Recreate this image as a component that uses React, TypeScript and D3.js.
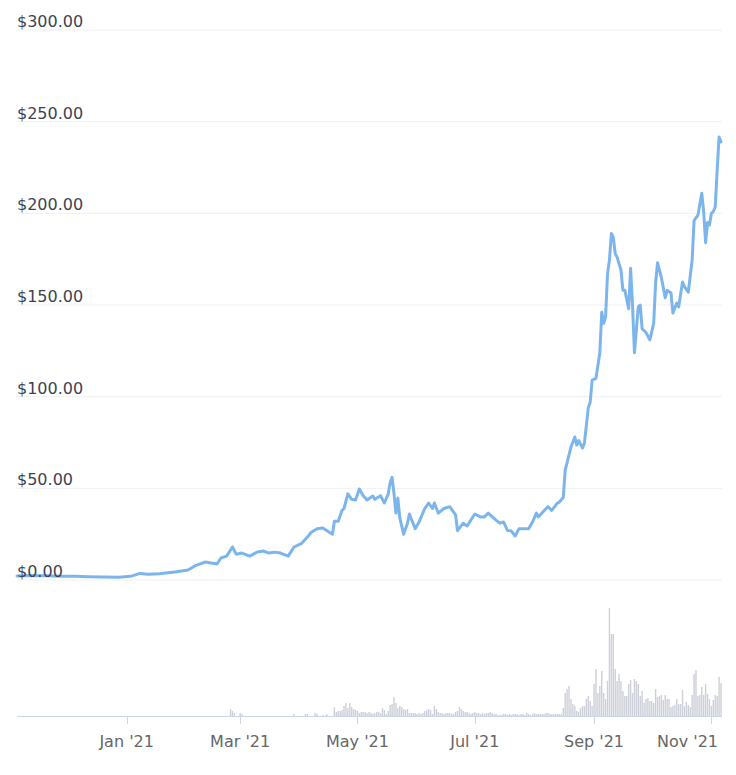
import React from "react";
import * as d3 from "d3";

// ---------- data ----------
const priceDates: string[] = [
  "2020-11-05","2020-11-12","2020-11-20","2020-11-28","2020-12-05","2020-12-12","2020-12-20","2020-12-28",
  "2021-01-03","2021-01-08","2021-01-12","2021-01-18","2021-01-26","2021-02-02","2021-02-06","2021-02-11",
  "2021-02-17","2021-02-19","2021-02-22","2021-02-25","2021-02-27","2021-03-02","2021-03-06","2021-03-10",
  "2021-03-13","2021-03-16","2021-03-19","2021-03-22","2021-03-26","2021-03-29","2021-04-02","2021-04-05",
  "2021-04-07","2021-04-10","2021-04-13","2021-04-15","2021-04-18","2021-04-19","2021-04-21","2021-04-23",
  "2021-04-24","2021-04-26","2021-04-28","2021-04-30","2021-05-02","2021-05-04","2021-05-06","2021-05-09",
  "2021-05-10","2021-05-13","2021-05-15","2021-05-17","2021-05-18","2021-05-19","2021-05-20","2021-05-21",
  "2021-05-22","2021-05-23","2021-05-25","2021-05-27","2021-05-28","2021-05-31","2021-06-02","2021-06-05",
  "2021-06-07","2021-06-09","2021-06-10","2021-06-12","2021-06-15","2021-06-18","2021-06-21","2021-06-22",
  "2021-06-25","2021-06-27","2021-07-01","2021-07-04","2021-07-06","2021-07-08","2021-07-12","2021-07-14",
  "2021-07-16","2021-07-18","2021-07-20","2021-07-22","2021-07-24","2021-07-29","2021-07-31","2021-08-02",
  "2021-08-03","2021-08-08","2021-08-10","2021-08-13","2021-08-14","2021-08-16","2021-08-17","2021-08-18",
  "2021-08-20","2021-08-22","2021-08-23","2021-08-24","2021-08-26","2021-08-27","2021-08-29","2021-08-30",
  "2021-08-31","2021-09-02","2021-09-04","2021-09-05","2021-09-06","2021-09-07","2021-09-08","2021-09-09",
  "2021-09-10","2021-09-11","2021-09-12","2021-09-13","2021-09-15","2021-09-16","2021-09-17","2021-09-19",
  "2021-09-20","2021-09-21","2021-09-22","2021-09-24","2021-09-25","2021-09-26","2021-09-28","2021-09-30",
  "2021-10-02","2021-10-03","2021-10-04","2021-10-06","2021-10-08","2021-10-09","2021-10-11","2021-10-12",
  "2021-10-14","2021-10-15","2021-10-17","2021-10-18","2021-10-20","2021-10-22","2021-10-23","2021-10-25",
  "2021-10-27","2021-10-28","2021-10-29","2021-10-30","2021-10-31","2021-11-01","2021-11-02","2021-11-03",
  "2021-11-04","2021-11-05","2021-11-06",
];
const priceValues: number[] = [
  2.2, 2.4, 2.3, 2.0, 2.0, 1.8, 1.6, 1.5,
  2.0, 3.6, 3.2, 3.4, 4.4, 5.5, 8.0, 9.8,
  8.7, 12, 13, 18, 14, 14.7, 13, 15.3,
  15.8, 14.7, 15.2, 14.7, 13, 18, 20, 23.5,
  26, 28, 28.4, 27, 25, 32, 32, 38,
  39, 47, 44, 43.6, 49.6, 46, 43.6, 45.8,
  44, 46, 42, 47, 53, 56, 47, 36.5,
  44.7, 34, 25, 31, 36, 28, 31.6, 39,
  42, 39, 42, 36.5, 39, 40, 35.5, 27,
  31, 29.5, 36, 34.4, 34.4, 36.5, 32.7, 31,
  31.6, 27, 26.7, 24, 28, 28, 31.6, 36.5,
  34.4, 40, 38, 42, 42.5, 45, 60, 64,
  72.5, 78, 73.6, 76, 72, 74.7, 94, 97,
  109, 110, 124, 146, 140, 143.5, 167, 174.5,
  189, 187, 178, 176, 169, 158, 158, 148,
  170, 150, 124, 149, 150, 137, 135, 131,
  140, 162, 173, 165, 154, 158, 156.5, 145.6,
  151, 149, 162.5, 160, 157, 174.5, 196, 199,
  211, 200.7, 184, 195, 193.6, 200, 201, 203.5,
  223.6, 241.6, 239,
];

// daily volume (USD billions), one array per month
const volFeb = [0,0,0,0,0,0,0,0,0,0,0,0,0,0,0,0,0,0,0,0,0,0,0,0.7,0.5,0.3,0,0];
const volMar = [0.3,0.2,0,0,0,0,0,0,0,0,0,0,0,0,0,0,0,0,0,0,0,0,0,0,0,0,0,0,0.2,0,0];
const volApr = [0,0,0,0.2,0.2,0,0,0,0.3,0.2,0,0,0.1,0,0.2,0,0,0,0.87,0.4,0.5,0.5,0.6,1.0,1.3,0.8,1.3,0.9,0.7,0.6];
const volMay = [0.5,0.3,0.4,0.4,0.4,0.3,0.4,0.3,0.2,0.3,0.4,0.4,0.3,0.8,0.6,0.2,0.5,1.1,1.2,1.87,1.3,0.8,1.0,0.9,0.7,0.6,0.7,0.3,0.3,0.3,0.3];
const volJun = [0.2,0.3,0.2,0.3,0.5,0.6,0.7,0.6,0.2,1.0,0.7,0.4,0.3,0.3,0.2,0.3,0.3,0.3,0.2,0.2,0.4,0.5,0.9,0.7,0.5,0.4,0.4,0.3,0.2,0.3];
const volJul = [0.4,0.3,0.3,0.2,0.3,0.2,0.3,0.3,0.4,0.3,0.2,0.2,0.1,0.1,0.1,0.2,0.2,0.1,0.2,0.1,0.2,0.2,0.2,0.1,0.2,0.2,0.1,0.3,0.2,0.1,0.2];
const volAug = [0.3,0.2,0.2,0.2,0.2,0.2,0.3,0.3,0.2,0.2,0.2,0.2,0.2,0.2,0.2,0.8,2.3,2.7,3.0,1.7,1.2,1.0,0.5,0.4,0.8,1.0,1.0,1.7,2.0,1.5,1.0];
const volSep = [3.2,4.7,2.3,3.0,4.5,2.3,1.7,3.5,10.8,8.2,8.2,4.7,3.5,4.2,3.5,2.5,2.0,2.0,3.2,3.6,2.3,3.7,3.5,3.2,2.0,2.5,1.3,1.7,1.8,1.5];
const volOct = [1.5,1.3,2.7,1.9,2.0,2.1,1.6,2.1,1.7,1.7,0.9,1.0,1.1,1.7,1.2,1.2,2.6,1.0,1.4,1.1,0.9,2.1,4.2,4.6,2.0,2.1,2.9,2.1,3.2,2.2,1.7];
const volNov = [1.0,1.6,2.1,2.0,3.9,3.3];
const volMonths: [string, number[]][] = [
  ["2021-02-01", volFeb], ["2021-03-01", volMar], ["2021-04-01", volApr], ["2021-05-01", volMay],
  ["2021-06-01", volJun], ["2021-07-01", volJul], ["2021-08-01", volAug], ["2021-09-01", volSep],
  ["2021-10-01", volOct], ["2021-11-01", volNov],
];

const yTicks = [0, 50, 100, 150, 200, 250, 300];
const domainStart = "2020-11-05";
const domainEnd = "2021-11-06";

// ---------- chart ----------
const W = 736, H = 775;
const parse = d3.timeParse("%Y-%m-%d");

export default function App() {
  const x = d3.scaleTime()
    .domain([parse(domainStart)!, parse(domainEnd)!])
    .range([17, 721]);
  const y = d3.scaleLinear().domain([0, 300]).range([580, 30]);
  const yv = d3.scaleLinear().domain([0, 10.8]).range([716, 608]);

  const prices = priceDates.map((d, i) => ({ date: parse(d)!, v: priceValues[i] }));
  const vols: { date: Date; v: number }[] = [];
  volMonths.forEach(([start, arr]) => {
    const s = parse(start)!;
    arr.forEach((v, i) => vols.push({ date: d3.timeDay.offset(s, i), v }));
  });

  const line = d3.line<{ date: Date; v: number }>()
    .x((d) => x(d.date))
    .y((d) => y(d.v));

  const xTicks = x.ticks(d3.timeMonth.every(2)!);
  const fmtX = d3.timeFormat("%b '%y");
  const fmtY = d3.format("$,.2f");
  const font = "'DejaVu Sans', sans-serif";
  const labelHalf = 32;
  const rightLimit = 718;

  return (
    <svg width={W} height={H} style={{ position: "absolute", left: 0, top: 0, background: "#fff" }}>
      {yTicks.map((t) => (
        <line key={t} x1={17} x2={722} y1={y(t)} y2={y(t)} stroke="#f0f0f4" strokeWidth={1} />
      ))}
      {vols.filter((d) => d.v > 0).map((d, i) => (
        <rect key={i} x={x(d.date) - 0.7} width={1.4} y={yv(d.v)} height={716 - yv(d.v)} fill="#cdd0d8" />
      ))}
      <line x1={17} x2={722} y1={716.5} y2={716.5} stroke="#ccd6eb" strokeWidth={1} />
      {xTicks.map((t) => {
        const tx = x(t);
        const overflow = tx + labelHalf > rightLimit;
        return (
          <g key={t.getTime()}>
            <line x1={Math.round(tx) + 0.5} x2={Math.round(tx) + 0.5} y1={716} y2={724} stroke="#ccd6eb" strokeWidth={1} />
            <text
              x={overflow ? rightLimit : tx}
              y={747}
              textAnchor={overflow ? "end" : "middle"}
              fontFamily={font}
              fontSize={16}
              fill="#666666"
            >
              {fmtX(t)}
            </text>
          </g>
        );
      })}
      <path d={line(prices)!} fill="none" stroke="#7cb5ec" strokeWidth={3} strokeLinejoin="round" strokeLinecap="round" />
      {yTicks.map((t) => (
        <text key={t} x={17} y={y(t) - 3} fontFamily={font} fontSize={16} fill="#3d4352">
          {fmtY(t)}
        </text>
      ))}
    </svg>
  );
}
